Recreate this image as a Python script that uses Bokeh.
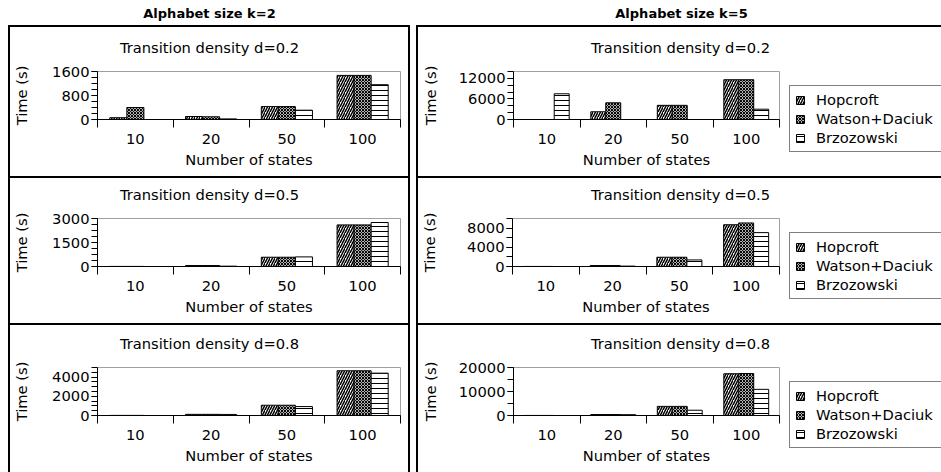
from bokeh.plotting import figure
from bokeh.models import (Range1d, FixedTicker, Label, Legend, LegendItem,
                          ColumnDataSource, Div, Spacer)
from bokeh.layouts import row, column
from bokeh.transform import dodge
from bokeh.embed import file_html
from bokeh.resources import INLINE

# ---------------- data ----------------
states = ["10", "20", "50", "100"]
algorithms = ["Hopcroft", "Watson+Daciuk", "Brzozowski"]
column_titles = ["Alphabet size k=2", "Alphabet size k=5"]
density_titles = ["Transition density d=0.2", "Transition density d=0.5", "Transition density d=0.8"]

k2_d02_hop = [60, 100, 430, 1470]
k2_d02_wd = [400, 90, 430, 1470]
k2_d02_brz = [0, 20, 310, 1160]

k2_d05_hop = [5, 60, 580, 2600]
k2_d05_wd = [5, 60, 580, 2600]
k2_d05_brz = [0, 20, 600, 2750]

k2_d08_hop = [10, 120, 1070, 4660]
k2_d08_wd = [10, 120, 1070, 4660]
k2_d08_brz = [0, 110, 930, 4410]

k5_d02_hop = [0, 2250, 4130, 11600]
k5_d02_wd = [0, 4870, 4130, 11600]
k5_d02_brz = [7500, 0, 0, 3000]

k5_d05_hop = [10, 200, 1930, 8700]
k5_d05_wd = [10, 200, 1930, 9070]
k5_d05_brz = [0, 80, 1370, 7060]

k5_d08_hop = [20, 400, 3800, 17400]
k5_d08_wd = [20, 400, 3800, 17500]
k5_d08_brz = [0, 350, 2200, 10900]

# y axis: (max, labelled ticks, minor step)
k2_axes = [(1600, [0, 800, 1600], 200), (3000, [0, 1500, 3000], 375), (5000, [0, 2000, 4000], 500)]
k5_axes = [(14000, [0, 6000, 12000], 2000), (10000, [0, 4000, 8000], 2000), (20000, [0, 10000, 20000], 5000)]

# ---------------- style ----------------
FONT = "DejaVu Sans"
FS = "14.7px"
EM = 14.7
BW = 0.225
HATCH = [dict(hatch_pattern="right_diagonal_line", hatch_scale=5, hatch_weight=1.5),
         dict(hatch_pattern="diagonal_cross", hatch_scale=3, hatch_weight=1.1),
         dict(hatch_pattern="horizontal_line", hatch_scale=5, hatch_weight=1)]
BAR_STYLE = dict(fill_color="white", line_color="black", line_width=1, hatch_color="black")
KEYS = ("hop", "wd", "brz")
OFFSETS = (-BW, 0.0, BW)

PANEL_H = [149, 145, 147]
FRAME_TOP = [44, 40, 42]
FRAME_H = 48
TITLE_H = 30
LEG_PAD, LEG_SPACING, LEG_ROW = 5, 2, 17.5


def style_fig(p):
    p.grid.visible = False
    p.background_fill_color = "white"
    p.border_fill_color = "white"


def bare_fig(width, height):
    p = figure(width=width, height=height, x_range=Range1d(0, 1), y_range=Range1d(0, 1),
               toolbar_location=None, output_backend="svg", title=None, min_border=0,
               x_axis_location=None, y_axis_location=None)
    style_fig(p)
    p.outline_line_color = None
    return p


def make_title_fig(width, text, cx, frame_top):
    p = bare_fig(width, TITLE_H)
    p.add_layout(Label(x=cx, y=TITLE_H - (frame_top - 24.5), x_units="screen", y_units="screen",
                       text=text, text_align="center", text_baseline="middle",
                       text_font=FONT, text_font_size=FS, text_color="black"))
    return p


def make_source(series):
    xc = [i + 0.5 for i in range(len(states))]
    return ColumnDataSource(dict(xc=xc, hop=series[0], wd=series[1], brz=series[2]))


def make_plot(width, frame_left, frame_w, height, frame_top, ylab_cx, src, yconf):
    ymax, majors, step = yconf
    p = figure(width=width, height=height, x_range=Range1d(0, len(states)),
               y_range=Range1d(0, ymax), toolbar_location=None, output_backend="svg",
               title=None, min_border_left=frame_left, min_border_top=frame_top,
               min_border_bottom=height - frame_top - FRAME_H,
               min_border_right=width - frame_left - frame_w)
    style_fig(p)
    p.outline_line_color = "#a0a0a0"

    for off, key, h in zip(OFFSETS, KEYS, HATCH):
        p.vbar(x=dodge("xc", off, range=p.x_range), top=key, width=BW, source=src,
               **BAR_STYLE, **h)

    xc = list(src.data["xc"])
    xa = p.xaxis[0]
    xa.ticker = FixedTicker(ticks=xc, minor_ticks=list(range(len(states) + 1)))
    xa.major_label_overrides = {x: s for x, s in zip(xc, states)}
    xa.major_tick_out = 0
    xa.major_tick_in = 0
    xa.minor_tick_out = 8
    xa.minor_tick_in = 0
    xa.major_label_standoff = 6
    xa.axis_label = "Number of states"
    xa.axis_label_standoff = 4

    ya = p.yaxis[0]
    ya.ticker = FixedTicker(ticks=majors, minor_ticks=list(range(0, ymax + 1, step)))
    ya.major_tick_out = 6
    ya.major_tick_in = 0
    ya.minor_tick_out = 6
    ya.minor_tick_in = 0
    ya.major_label_standoff = 2
    ya.axis_label = "Time (s)"
    ndig = max(len(str(m)) for m in majors)
    w = ndig * 0.636 * EM
    ya.axis_label_standoff = int(round(frame_left - ylab_cx - 8 - w - 7.4))

    for ax in (xa, ya):
        ax.axis_line_color = "black"
        ax.major_tick_line_color = "black"
        ax.minor_tick_line_color = "black"
        ax.major_label_text_font = FONT
        ax.major_label_text_font_size = FS
        ax.major_label_text_color = "black"
        ax.axis_label_text_font = FONT
        ax.axis_label_text_font_size = FS
        ax.axis_label_text_font_style = "normal"
        ax.axis_label_text_color = "black"
    return p


def make_legend_fig(width, height, frame_bottom_from_bottom, src):
    p = bare_fig(width, height)
    # same series as the plot beside it; kept hidden, only their styles feed the legend
    rs = [p.vbar(x=dodge("xc", off, range=p.x_range), top=key, width=BW, source=src,
                 visible=False, **BAR_STYLE, **h)
          for off, key, h in zip(OFFSETS, KEYS, HATCH)]
    lg = Legend(items=[LegendItem(label=a, renderers=[r]) for a, r in zip(algorithms, rs)])
    lg.label_text_font = FONT
    lg.label_text_font_size = FS
    lg.label_text_color = "black"
    lg.label_height = 13
    lg.label_width = 135
    lg.label_standoff = 11
    lg.glyph_width = 10
    lg.glyph_height = 10
    lg.spacing = LEG_SPACING
    lg.padding = LEG_PAD
    lg.border_line_color = "black"
    lg.border_line_width = 1
    lg.background_fill_color = "white"
    lg.background_fill_alpha = 1
    lg.inactive_fill_alpha = 0
    lg_h = 3 * LEG_ROW + 2 * LEG_SPACING + 2 * LEG_PAD
    lg.location = (6, int(round(frame_bottom_from_bottom - lg_h / 2)))
    p.add_layout(lg)
    return p


def make_header(text, width, cx):
    p = bare_fig(width, 25)
    p.add_layout(Label(x=cx, y=12, x_units="screen", y_units="screen", text=text,
                       text_align="center", text_baseline="middle", text_font=FONT,
                       text_font_style="bold", text_font_size="13px", text_color="black"))
    return p


def line_div(w, h):
    return Div(text="", width=w, height=h, margin=0,
               styles={"background-color": "black"})


k2_series = [(k2_d02_hop, k2_d02_wd, k2_d02_brz), (k2_d05_hop, k2_d05_wd, k2_d05_brz),
             (k2_d08_hop, k2_d08_wd, k2_d08_brz)]
k5_series = [(k5_d02_hop, k5_d02_wd, k5_d02_brz), (k5_d05_hop, k5_d05_wd, k5_d05_brz),
             (k5_d08_hop, k5_d08_wd, k5_d08_brz)]

LW, RW = 402, 525
LFIG, RPLOT, RLEG = 398, 365, 158
left_children = []
right_children = []
for i in range(3):
    h = PANEL_H[i]
    ph = h - TITLE_H
    ft = FRAME_TOP[i] - TITLE_H
    src_l = make_source(k2_series[i])
    src_r = make_source(k5_series[i])
    pl = make_plot(LFIG, 86, 304, ph, ft, 14, src_l, k2_axes[i])
    tl = make_title_fig(LFIG, density_titles[i], 199, FRAME_TOP[i])
    pr = make_plot(RPLOT, 94, 267, ph, ft, 15, src_r, k5_axes[i])
    tr = make_title_fig(RPLOT + RLEG, density_titles[i], 262, FRAME_TOP[i])
    lgf = make_legend_fig(RLEG, ph, ph - ft - FRAME_H, src_r)
    left_children += [line_div(LW, 2),
                      row(line_div(2, h), column(row(tl, spacing=0), row(pl, spacing=0), spacing=0),
                          line_div(2, h), spacing=0)]
    right_children += [line_div(RW, 2),
                       row(line_div(2, h),
                           column(row(tr, spacing=0),
                                  row(row(pr, spacing=0), row(lgf, spacing=0), spacing=0),
                                  spacing=0), spacing=0)]

body = row(Spacer(width=8, height=10), column(*left_children, spacing=0),
           Spacer(width=6, height=10), column(*right_children, spacing=0), spacing=0)
header = row(make_header(column_titles[0], 410, 209), make_header(column_titles[1], 531, 271),
             spacing=0)
layout = column(header, body, spacing=0)

open("out.html", "w").write(file_html(layout, INLINE))
